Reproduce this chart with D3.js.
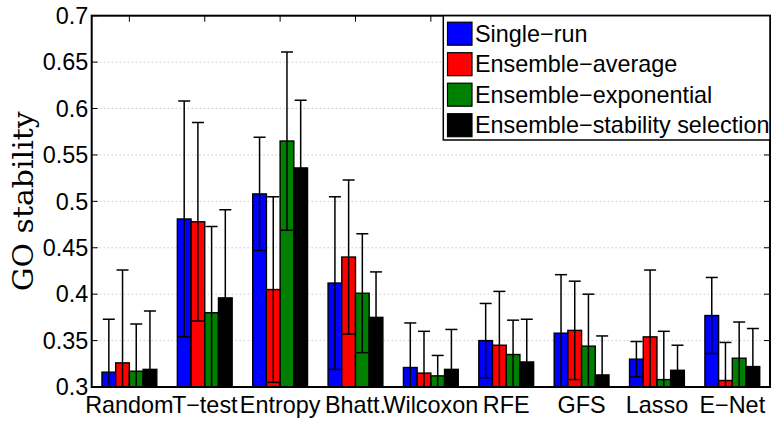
<!DOCTYPE html>
<html lang="en">
<head>
<meta charset="utf-8">
<script src="https://d3js.org/d3.v7.min.js"></script>
<style>
  body { margin: 0; background: #fff; }
  svg text { font-family: "Liberation Sans", Arial, Helvetica, sans-serif; }
</style>
</head>
<body>
<script>
// ---- data ----
var categories = ["Random", "T\u2212test", "Entropy", "Bhatt.", "Wilcoxon", "RFE", "GFS", "Lasso", "E\u2212Net"];
var seriesNames = ["Single\u2212run", "Ensemble\u2212average", "Ensemble\u2212exponential", "Ensemble\u2212stability selection"];
var seriesColors = ["#0000ff", "#ff0000", "#008000", "#000000"];

var singleRun    = [0.316, 0.481, 0.508, 0.412, 0.321, 0.350, 0.358, 0.330, 0.377];
var singleRunSd  = [0.057, 0.127, 0.061, 0.093, 0.048, 0.040, 0.063, 0.019, 0.041];
var ensAverage   = [0.326, 0.478, 0.405, 0.440, 0.315, 0.345, 0.361, 0.354, 0.307];
var ensAverageSd = [0.100, 0.107, 0.100, 0.083, 0.045, 0.058, 0.053, 0.072, 0.041];
var ensExpo      = [0.317, 0.380, 0.565, 0.401, 0.312, 0.335, 0.344, 0.308, 0.331];
var ensExpoSd    = [0.051, 0.093, 0.096, 0.064, 0.022, 0.037, 0.056, 0.052, 0.039];
var ensStab      = [0.319, 0.396, 0.536, 0.375, 0.319, 0.327, 0.313, 0.318, 0.322];
var ensStabSd    = [0.063, 0.095, 0.073, 0.049, 0.043, 0.046, 0.042, 0.027, 0.041];

var yTicks = [0.3, 0.35, 0.4, 0.45, 0.5, 0.55, 0.6, 0.65, 0.7];
var yTickLabels = ["0.3", "0.35", "0.4", "0.45", "0.5", "0.55", "0.6", "0.65", "0.7"];

var means = [singleRun, ensAverage, ensExpo, ensStab];
var sds = [singleRunSd, ensAverageSd, ensExpoSd, ensStabSd];

// ---- layout ----
var width = 772, height = 421;
var pLeft = 91.7, pRight = 770, pTop = 15.7, pBottom = 387;
var fontPx = "23.4px";

var svg = d3.select("body").append("svg")
    .attr("width", width)
    .attr("height", height);

var x = d3.scaleLinear().domain([0.5, categories.length + 0.5]).range([pLeft, pRight]);
var y = d3.scaleLinear().domain([0.3, 0.7]).range([pBottom, pTop]);

// matlab style grouped bars
var nSeries = means.length;
var groupWidth = Math.min(0.8, nSeries / (nSeries + 1.5));
var barW = groupWidth / nSeries;
function barCenter(i, j) { return (i + 1) - groupWidth / 2 + barW * (j + 0.5); }

svg.append("defs").append("clipPath").attr("id", "plotclip")
  .append("rect")
    .attr("x", pLeft).attr("y", pTop)
    .attr("width", pRight - pLeft).attr("height", pBottom - pTop);

// grid
svg.append("g").selectAll("line")
  .data(yTicks.slice(1, -1))
  .enter().append("line")
    .attr("x1", pLeft).attr("x2", pRight)
    .attr("y1", function(d) { return y(d); })
    .attr("y2", function(d) { return y(d); })
    .attr("stroke", "#b0b0b0")
    .attr("stroke-width", 1)
    .attr("stroke-dasharray", "1,3");

var plot = svg.append("g").attr("clip-path", "url(#plotclip)");

// bars
var barData = [];
means.forEach(function(s, j) {
  s.forEach(function(v, i) {
    barData.push({ i: i, j: j, v: v, sd: sds[j][i] });
  });
});

plot.append("g").selectAll("rect")
  .data(barData)
  .enter().append("rect")
    .attr("x", function(d) { return x(barCenter(d.i, d.j) - barW / 2); })
    .attr("width", function(d) { return x(barW) - x(0); })
    .attr("y", function(d) { return y(d.v); })
    .attr("height", function(d) { return y(0.3) - y(d.v); })
    .attr("fill", function(d) { return seriesColors[d.j]; })
    .attr("stroke", "#000")
    .attr("stroke-width", 1.4);

// error bars
var capHalf = 6;
var eb = plot.append("g").selectAll("g")
  .data(barData)
  .enter().append("g")
    .attr("stroke", "#000")
    .attr("stroke-width", 1.5);

eb.append("line")
    .attr("x1", function(d) { return x(barCenter(d.i, d.j)); })
    .attr("x2", function(d) { return x(barCenter(d.i, d.j)); })
    .attr("y1", function(d) { return y(d.v - d.sd); })
    .attr("y2", function(d) { return y(d.v + d.sd); });
eb.append("line")
    .attr("x1", function(d) { return x(barCenter(d.i, d.j)) - capHalf; })
    .attr("x2", function(d) { return x(barCenter(d.i, d.j)) + capHalf; })
    .attr("y1", function(d) { return y(d.v + d.sd); })
    .attr("y2", function(d) { return y(d.v + d.sd); });
eb.append("line")
    .attr("x1", function(d) { return x(barCenter(d.i, d.j)) - capHalf; })
    .attr("x2", function(d) { return x(barCenter(d.i, d.j)) + capHalf; })
    .attr("y1", function(d) { return y(d.v - d.sd); })
    .attr("y2", function(d) { return y(d.v - d.sd); });

// axes box and ticks
var tl = 6;
var axes = svg.append("g").attr("stroke", "#000").attr("stroke-width", 1);
yTicks.forEach(function(t) {
  axes.append("line").attr("x1", pLeft).attr("x2", pLeft + tl).attr("y1", y(t)).attr("y2", y(t));
  axes.append("line").attr("x1", pRight).attr("x2", pRight - tl).attr("y1", y(t)).attr("y2", y(t));
});
categories.forEach(function(c, i) {
  axes.append("line").attr("x1", x(i + 1)).attr("x2", x(i + 1)).attr("y1", pBottom).attr("y2", pBottom - tl);
  axes.append("line").attr("x1", x(i + 1)).attr("x2", x(i + 1)).attr("y1", pTop).attr("y2", pTop + tl);
});
svg.append("rect")
    .attr("x", pLeft).attr("y", pTop)
    .attr("width", pRight - pLeft).attr("height", pBottom - pTop)
    .attr("fill", "none")
    .attr("stroke", "#000")
    .attr("stroke-width", 2);

// tick labels
svg.append("g").selectAll("text")
  .data(yTicks)
  .enter().append("text")
    .attr("x", pLeft - 3.5)
    .attr("y", function(d) { return y(d) + 8.3; })
    .attr("text-anchor", "end")
    .style("font-size", fontPx)
    .text(function(d, i) { return yTickLabels[i]; });

svg.append("g").selectAll("text")
  .data(categories)
  .enter().append("text")
    .attr("x", function(d, i) { return x(i + 1); })
    .attr("y", 412.5)
    .attr("text-anchor", "middle")
    .style("font-size", fontPx)
    .text(function(d) { return d; });

// y label
svg.append("text")
    .attr("transform", "translate(32.5," + ((pTop + pBottom) / 2) + ") rotate(-90)")
    .attr("text-anchor", "middle")
    .style("font-family", "'DejaVu Serif', 'Liberation Serif', serif")
    .style("font-size", "28px")
    .attr("textLength", 180)
    .attr("lengthAdjust", "spacingAndGlyphs")
    .text("GO stability");

// legend
var lg = svg.append("g");
lg.append("rect")
    .attr("x", 443.3).attr("y", pTop)
    .attr("width", pRight - 443.3).attr("height", 140 - pTop)
    .attr("fill", "#fff")
    .attr("stroke", "#000")
    .attr("stroke-width", 1.5);

var items = lg.selectAll("g.item")
  .data(seriesNames)
  .enter().append("g")
    .attr("class", "item")
    .attr("transform", function(d, i) { return "translate(0," + (33.7 + i * 30.5) + ")"; });
items.append("rect")
    .attr("x", 447.5).attr("y", -11.5)
    .attr("width", 24.5).attr("height", 23)
    .attr("fill", function(d, i) { return seriesColors[i]; })
    .attr("stroke", "#000")
    .attr("stroke-width", 1.2);
items.append("text")
    .attr("x", 475)
    .attr("y", 8)
    .style("font-size", fontPx)
    .text(function(d) { return d; });
</script>
</body>
</html>
